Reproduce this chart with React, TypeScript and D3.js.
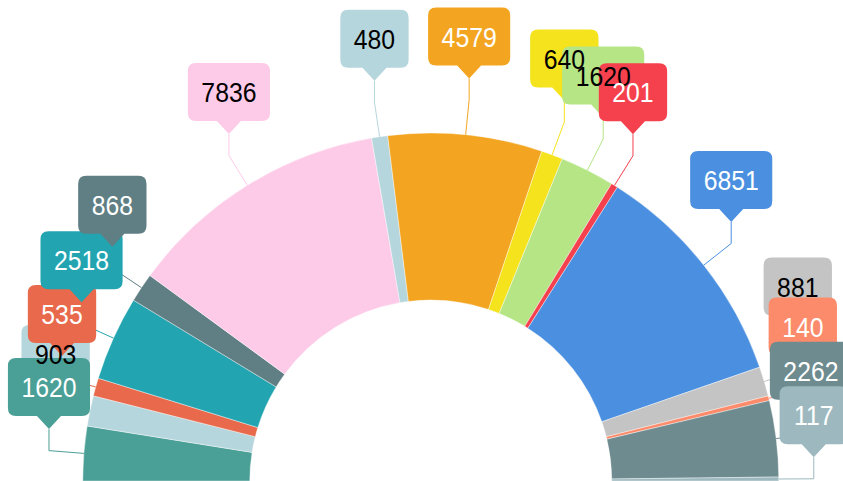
import React from "react";
import * as d3 from "d3";

// ---- data (left to right around the half ring) ----
const labels = ["1620", "903", "535", "2518", "868", "7836", "480", "4579", "640", "1620", "201", "6851", "881", "140", "2262", "117"];
const values = [1620, 903, 535, 2518, 868, 7836, 480, 4579, 640, 1620, 201, 6851, 881, 140, 2262, 117];
const colors = [
  "#4a9f96", "#b6d6dd", "#e8694b", "#22a5b1", "#5f7f84", "#fdcbe8",
  "#b6d6dd", "#f3a521", "#f5e31d", "#b5e585", "#f5404e", "#4a8fe0",
  "#c4c4c4", "#fb8b6b", "#6e8b8f", "#9db9bf",
];

const W = 843;
const H = 481;
const FONT = 28;
const SCALE_X = 0.885;

function textColor(c: string) {
  const rgb = d3.rgb(c);
  const y = 0.299 * rgb.r + 0.587 * rgb.g + 0.114 * rgb.b;
  return y > 190 ? "#000000" : "#ffffff";
}

export default function App() {
  const cx = W * 0.511;
  const cy = H;
  const outerR = 348;
  const innerR = 181;
  const labelR = 383;
  const boxH = 58;
  const ptrH = 13;
  const lift = 21.5;

  const pie = d3
    .pie<number>()
    .sort(null)
    .startAngle(-Math.PI / 2)
    .endAngle(Math.PI / 2)
    .value((d) => d);
  const arcs = pie(values);
  const arcGen = d3.arc<d3.PieArcDatum<number>>().innerRadius(innerR).outerRadius(outerR);

  const items = arcs.map((a, i) => {
    const m = (a.startAngle + a.endAngle) / 2;
    const sx = cx + outerR * Math.sin(m);
    const sy = cy - outerR * Math.cos(m);
    const bx = cx + labelR * Math.sin(m);
    const by = cy - labelR * Math.cos(m);
    const ty = by - lift - ptrH - boxH / 2;
    return { i, m, sx, sy, bx, by, ty, moved: false };
  });

  // simple de-overlap: a label stacked almost on top of its neighbour
  // is pushed away from it to a minimum vertical gap
  const minGap = 40;
  for (let k = 1; k < items.length - 1; k++) {
    const c = items[k];
    for (const o of [items[k - 1], items[k + 1]]) {
      if (Math.abs(o.bx - c.bx) < 25 && Math.abs(o.ty - c.ty) < 30) {
        c.ty = o.ty + Math.sign(c.ty - o.ty) * minGap;
        c.moved = true;
        break;
      }
    }
  }

  // moved labels are drawn first (underneath), others in data order
  const drawOrder = [...items.filter((d) => d.moved), ...items.filter((d) => !d.moved)];

  const digitW = FONT * 0.556 * SCALE_X;

  const boxPath = (x: number, top: number, w: number) => {
    const r = 8;
    const l = x - w / 2;
    const rr = x + w / 2;
    const b = top + boxH;
    const pw = 12;
    return [
      `M${l + r},${top}`,
      `L${rr - r},${top}`,
      `Q${rr},${top} ${rr},${top + r}`,
      `L${rr},${b - r}`,
      `Q${rr},${b} ${rr - r},${b}`,
      `L${x + pw},${b}`,
      `L${x},${b + ptrH}`,
      `L${x - pw},${b}`,
      `L${l + r},${b}`,
      `Q${l},${b} ${l},${b - r}`,
      `L${l},${top + r}`,
      `Q${l},${top} ${l + r},${top}`,
      "Z",
    ].join(" ");
  };

  return (
    <div style={{ position: "fixed", left: 0, top: 0, width: W, height: H, background: "#fff" }}>
      <svg width={W} height={H} style={{ display: "block" }} fontFamily="'Liberation Sans', Arial, sans-serif">
        <rect width={W} height={H} fill="#ffffff" />
        <g transform={`translate(${cx},${cy})`}>
          {arcs.map((a, i) => (
            <path key={i} d={arcGen(a) || ""} fill={colors[i]} stroke="#ffffff" strokeWidth={0.4} />
          ))}
        </g>
        <g>
          {items.map((it) => {
            const tipY = it.ty + boxH / 2 + ptrH;
            return (
              <path
                key={it.i}
                d={`M${it.sx},${it.sy} L${it.bx},${it.by} L${it.bx},${tipY}`}
                fill="none"
                stroke={colors[it.i]}
                strokeWidth={1}
              />
            );
          })}
        </g>
        <g>
          {drawOrder.map((it) => {
            const w = labels[it.i].length * digitW + 27;
            return <path key={it.i} d={boxPath(it.bx, it.ty - boxH / 2, w)} fill={colors[it.i]} />;
          })}
        </g>
        <g>
          {items.map((it) => (
            <text
              key={it.i}
              transform={`translate(${it.bx},${it.ty}) scale(${SCALE_X},1)`}
              textAnchor="middle"
              dy="0.36em"
              fontSize={FONT}
              fill={textColor(colors[it.i])}
            >
              {labels[it.i]}
            </text>
          ))}
        </g>
      </svg>
    </div>
  );
}
